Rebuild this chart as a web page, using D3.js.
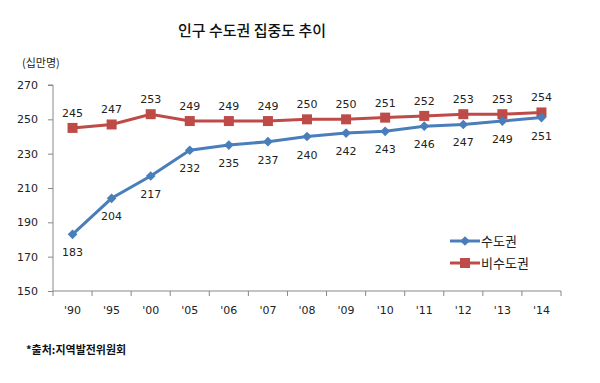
<!DOCTYPE html>
<html><head><meta charset="utf-8">
<script src="https://cdn.jsdelivr.net/npm/d3@7"></script>
<style>body{margin:0;background:#fff}svg{display:block}</style>
</head><body>
<script>
const years = ["'90","'95","'00","'05","'06","'07","'08","'09","'10","'11","'12","'13","'14"];
const capital = [183,204,217,232,235,237,240,242,243,246,247,249,251];
const nonCapital = [245,247,253,249,249,249,250,250,251,252,253,253,254];
const yTicks = [150,170,190,210,230,250,270];
const seriesNames = ["수도권","비수도권"];
const colors = ["#4a7ebb","#be4b48"];

const W=600,H=383;
const svg=d3.select("body").append("svg").attr("width",W).attr("height",H);
const font="'DejaVu Sans', Verdana, sans-serif";
const kfont="'Noto Sans CJK KR', sans-serif";

const x=d3.scaleBand().domain(years).range([53,561]);
const y=d3.scaleLinear().domain([150,270]).range([291,85]);

svg.append("text").attr("x",252).attr("y",36).attr("text-anchor","middle")
  .attr("font-family",kfont).attr("font-size",15).attr("font-weight",500).attr("fill","#111")
  .text("인구 수도권 집중도 추이");
svg.append("text").attr("x",22).attr("y",67).attr("font-family",kfont).attr("font-size",11).attr("fill","#222")
  .text("(십만명)");

const ya=svg.append("g").attr("transform","translate(53,0)")
  .call(d3.axisLeft(y).tickValues(yTicks).tickSize(5).tickPadding(10).tickFormat(d3.format("d")));
ya.select(".domain").attr("stroke","#888").attr("d","M-5,85H0V291");
ya.selectAll(".tick line").attr("stroke","#888");
ya.selectAll("text").attr("font-family",font).attr("font-size",11).attr("fill","#222");

const xa=svg.append("g").attr("transform","translate(0,291)")
  .call(d3.axisBottom(x).tickSize(0).tickPadding(15));
xa.select(".domain").attr("stroke","#888").attr("d","M53,0H561");
xa.selectAll("text").attr("font-family",font).attr("font-size",11).attr("fill","#222");
const bounds=years.map(d=>x(d)).concat([x(years[years.length-1])+x.bandwidth()]);
svg.append("g").selectAll("line").data(bounds).join("line")
  .attr("x1",d=>d).attr("x2",d=>d).attr("y1",291).attr("y2",296).attr("stroke","#888");

const cx=d=>x(d)+x.bandwidth()/2;
const line=d3.line().x((d,i)=>cx(years[i])).y(d=>y(d));

// red series
svg.append("path").datum(nonCapital).attr("d",line).attr("fill","none").attr("stroke",colors[1]).attr("stroke-width",3);
svg.append("g").selectAll("rect").data(nonCapital).join("rect")
  .attr("x",(d,i)=>cx(years[i])-5).attr("y",d=>y(d)-5).attr("width",10).attr("height",10).attr("fill",colors[1]);
svg.append("g").selectAll("text").data(nonCapital).join("text")
  .attr("x",(d,i)=>cx(years[i])).attr("y",d=>y(d)-11).attr("text-anchor","middle")
  .attr("font-family",font).attr("font-size",11).attr("fill","#222").text(d=>d);

// blue series
svg.append("path").datum(capital).attr("d",line).attr("fill","none").attr("stroke",colors[0]).attr("stroke-width",3);
svg.append("g").selectAll("path").data(capital).join("path")
  .attr("d",d3.symbol(d3.symbolDiamond2,60)).attr("transform",(d,i)=>`translate(${cx(years[i])},${y(d)})`).attr("fill",colors[0]);
svg.append("g").selectAll("text").data(capital).join("text")
  .attr("x",(d,i)=>cx(years[i])).attr("y",d=>y(d)+22).attr("text-anchor","middle")
  .attr("font-family",font).attr("font-size",11).attr("fill","#222").text(d=>d);

// legend
const lg=svg.append("g");
[0,1].forEach(k=>{
  const ly=241+k*22;
  lg.append("line").attr("x1",450).attr("x2",480).attr("y1",ly).attr("y2",ly).attr("stroke",colors[k]).attr("stroke-width",3);
  if(k===0) lg.append("path").attr("d",d3.symbol(d3.symbolDiamond2,60)).attr("transform",`translate(465,${ly})`).attr("fill",colors[0]);
  else lg.append("rect").attr("x",460).attr("y",ly-5).attr("width",10).attr("height",10).attr("fill",colors[1]);
  lg.append("text").attr("x",481).attr("y",ly+5).attr("font-family",kfont).attr("font-size",13).attr("fill","#222").text(seriesNames[k]);
});

svg.append("text").attr("x",26).attr("y",354).attr("font-family",kfont).attr("font-size",11).attr("font-weight",700).attr("fill","#111")
  .text("*출처:지역발전위원회");
</script>
</body></html>
